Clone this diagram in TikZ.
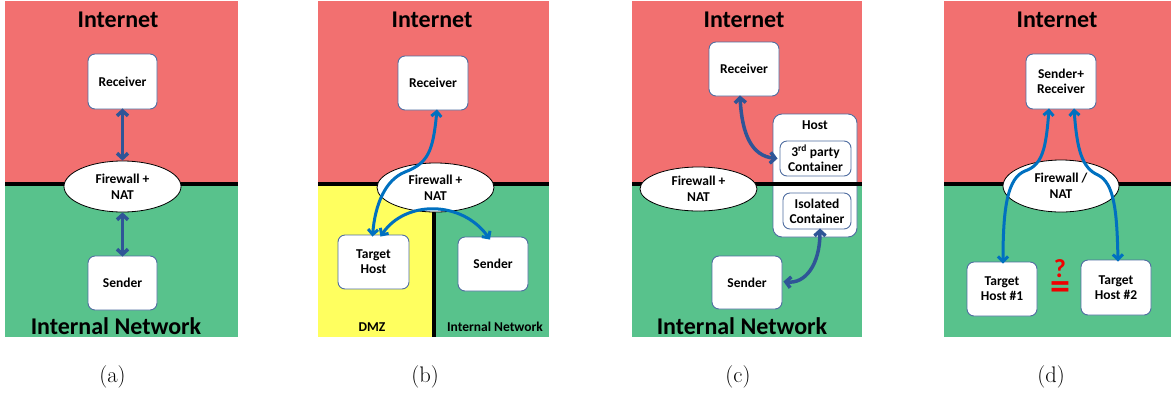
\documentclass[tikz,border=0pt]{standalone}
\usepackage{fontspec}
\newfontfamily\calfont{Carlito}
\usetikzlibrary{arrows.meta,shapes.geometric,calc}
\definecolor{redbg}{RGB}{242,112,112}
\definecolor{greenbg}{RGB}{88,194,140}
\definecolor{yellowbg}{RGB}{255,255,95}
\definecolor{boxline}{RGB}{79,109,160}
\definecolor{darkarr}{RGB}{47,85,151}
\definecolor{brightarr}{RGB}{0,112,192}
\definecolor{qred}{RGB}{240,0,0}
\tikzset{
  divider/.style={line width=3.5pt,black},
  hostbox/.style={draw=boxline,line width=0.9pt,fill=white,rounded corners=7pt,
     font=\calfont\bfseries\fontsize{13.5}{15}\selectfont,align=center,inner sep=0pt},
  fwall/.style={ellipse,draw=black,line width=0.8pt,fill=white,inner sep=0pt,
     font=\calfont\bfseries\fontsize{13.5}{16}\selectfont,align=center},
  bigtitle/.style={font=\calfont\bfseries\fontsize{24}{26}\selectfont,inner sep=0pt},
  smalltitle/.style={font=\calfont\bfseries\fontsize{13.5}{15}\selectfont,inner sep=0pt},
  caption/.style={font=\fontsize{22.5}{26}\selectfont,inner sep=0pt},
  qmark/.style={font=\calfont\bfseries\fontsize{26}{28}\selectfont,text=qred,inner sep=0pt},
  darr/.style={draw=darkarr,line width=3.5pt,{Straight Barb[length=5pt,width=11pt]}-{Straight Barb[length=5pt,width=11pt]}},
  barr/.style={draw=brightarr,line width=3pt,{Straight Barb[length=5pt,width=10pt]}-{Straight Barb[length=5pt,width=10pt]}}
}
\begin{document}
\begin{tikzpicture}[x=1pt,y=-1pt]
\useasboundingbox (0,0) rectangle (1171,392);
% ---------- (a) ----------
\fill[redbg] (5,1) rectangle (238,184);
\fill[greenbg] (5,184) rectangle (238,337);
\draw[divider] (5,184) -- (238,184);
\node[bigtitle] (inetA) at (118,20) {Internet};
\node[bigtitle] (intA) at (116,326) {Internal Network};
\node[hostbox,minimum width=69pt,minimum height=55pt] (recA) at (122.5,81.5) {Receiver};
\node[fwall,minimum width=117pt,minimum height=51pt] (fwA) at (122.5,186.5) {Firewall +\\NAT};
\node[hostbox,minimum width=69pt,minimum height=54pt] (sndA) at (122.5,283) {Sender};
\draw[darr] ([yshift=1pt]recA.south) -- (fwA.north);
\draw[darr] (fwA.south) -- ([yshift=-1pt]sndA.north);
\node[caption] (capA) at (112.5,377) {(a)};
% ---------- (b) ----------
\fill[redbg] (318,1) rectangle (549,184);
\fill[yellowbg] (318,184) rectangle (434,337);
\fill[greenbg] (434,184) rectangle (549,337);
\draw[divider] (318,184) -- (549,184);
\draw[divider] (434,184) -- (434,337);
\node[bigtitle] (inetB) at (432,20) {Internet};
\node[smalltitle] (dmzB) at (372,327) {DMZ};
\node[smalltitle] (intB) at (495,327) {Internal Network};
\node[hostbox,minimum width=70pt,minimum height=54pt] (recB) at (433,83) {Receiver};
\node[fwall,minimum width=117pt,minimum height=49pt] (fwB) at (435.5,187.5) {Firewall +\\NAT};
\node[hostbox,minimum width=71pt,minimum height=54pt] (tgtB) at (373.5,262) {Target\\Host};
\node[hostbox,minimum width=70pt,minimum height=54pt] (sndB) at (493,264) {Sender};
\draw[barr] ([xshift=4pt,yshift=1pt]recB.south) .. controls (433,152) and (428,163) .. (405,172)
   .. controls (385,180) and (375,205) .. ([xshift=-1pt,yshift=-2pt]tgtB.north);
\draw[barr] ([xshift=7pt,yshift=-2pt]tgtB.north) .. controls (405,200) and (462,200) .. ([xshift=-3pt,yshift=-3pt]sndB.north);
\node[caption] (capB) at (425,377) {(b)};
% ---------- (c) ----------
\fill[redbg] (632,1) rectangle (862,184);
\fill[greenbg] (632,184) rectangle (862,337);
\node[bigtitle] (inetC) at (744,20) {Internet};
\node[bigtitle] (intC) at (742,326) {Internal Network};
\node[hostbox,minimum width=70pt,minimum height=54pt] (recC) at (744,69) {Receiver};
\node[hostbox,minimum width=84pt,minimum height=123pt,rounded corners=9pt] (hostC) at (815,175.5) {};
\node[smalltitle] (hostlbl) at (815,125) {Host};
\draw[divider] (632,184) -- (862,184);
\node[hostbox,minimum width=71pt,minimum height=35pt] (thirdC) at (815.5,158.5) {3\textsuperscript{rd} party\\Container};
\node[hostbox,minimum width=68pt,minimum height=36pt] (isoC) at (817,211) {Isolated\\Container};
\node[fwall,minimum width=117pt,minimum height=44pt] (fwC) at (698.5,189) {Firewall +\\NAT};
\node[hostbox,minimum width=70pt,minimum height=53pt] (sndC) at (747,282.5) {Sender};
\draw[darr] ([xshift=-4pt,yshift=1pt]recC.south) .. controls (742,135) and (752,156) .. ([xshift=-2pt]thirdC.west);
\draw[darr] ([xshift=3pt,yshift=1pt]isoC.south) .. controls (820,265) and (805,284) .. ([xshift=1pt,yshift=1pt]sndC.east);
\node[caption] (capC) at (738,377) {(c)};
% ---------- (d) ----------
\fill[redbg] (944,1) rectangle (1171,184);
\fill[greenbg] (944,184) rectangle (1171,337);
\draw[divider] (944,184) -- (1171,184);
\node[bigtitle] (inetD) at (1057,20) {Internet};
\node[hostbox,minimum width=70pt,minimum height=55pt] (srD) at (1061,81.5) {Sender+\\Receiver};
\node[fwall,minimum width=116pt,minimum height=52pt] (fwD) at (1061,186) {Firewall /\\NAT};
\node[hostbox,minimum width=70pt,minimum height=54pt] (t1D) at (1002,289) {Target\\Host \#1};
\node[hostbox,minimum width=70pt,minimum height=55pt] (t2D) at (1116,287.5) {Target\\Host \#2};
\draw[barr] ([xshift=-12pt,yshift=1pt]srD.south) .. controls (1046,150) and (1042,165) .. (1025,171)
   .. controls (1008,178) and (1003,205) .. ([xshift=1pt,yshift=-2pt]t1D.north);
\draw[barr] ([xshift=13pt,yshift=1pt]srD.south) .. controls (1077,150) and (1082,168) .. (1098,175)
   .. controls (1114,183) and (1117,210) .. ([xshift=2pt,yshift=-2pt]t2D.north);
\node[qmark,anchor=north] (qD) at (1060,259) {\shortstack{?\\[1.5pt]{\fontsize{40}{40}\selectfont =}}};
\node[caption] (capD) at (1051,377) {(d)};
\end{tikzpicture}
\end{document}
